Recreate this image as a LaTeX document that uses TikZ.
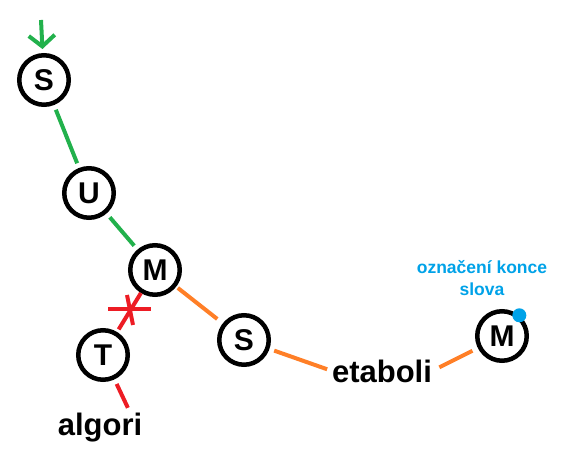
\documentclass[tikz,border=0pt]{standalone}
\usepackage{fontspec}
\setmainfont{Liberation Sans}
\usepackage{xcolor}
\usepackage{tikz}
\usetikzlibrary{arrows.meta}
\definecolor{paintgreen}{RGB}{34,177,76}
\definecolor{paintorange}{RGB}{255,127,39}
\definecolor{paintred}{RGB}{237,28,36}
\definecolor{paintblue}{RGB}{0,162,232}
\tikzset{
  letter/.style={
    circle,draw,line width=4.5pt,minimum size=49.5pt,inner sep=0pt,
    font=\fontsize{30}{30}\selectfont\bfseries
  },
  word/.style={
    inner sep=0pt,anchor=base,
    font=\fontsize{31}{31}\selectfont\bfseries
  },
  note/.style={
    inner sep=0pt,align=center,text=paintblue,
    font=\fontsize{17.5}{22}\selectfont\bfseries
  },
  stroke green/.style={draw=paintgreen,line width=4pt},
  stroke orange/.style={draw=paintorange,line width=4pt},
  stroke red/.style={draw=paintred,line width=4pt}
}

\begin{document}
\begin{tikzpicture}[x=1pt,y=-1pt]
                    \useasboundingbox (0,0) rectangle (565,462);
                    \begin{scope}[every node/.style={letter}]
                        \node (S1) at (44,80) {S};
                        \node (U) at (89,193) {U};
                        \node (M1) at (155,270) {M};

                        \node (T) at (103,355) {T};
                        \node (S2) at (244,340) {S};

                        \node (M2) at (502,336) {M};
                    \end{scope}
                    \node[word] (algori) at (100,435) {algori};
                    \node[word] (etaboli) at (382,382) {etaboli};
                    \node[note] (konec) at (482,278) {označení konce\\slova};
                    \fill[paintblue] (M2.50) circle (7pt);
                    \coordinate (start) at (41,20);
                    \coordinate (cut) at (129,309);
                    % vstup do stromu
                    \draw [stroke green,-{Straight Barb[length=11pt,width=26pt]},shorten >=4pt] (start) -- (S1);
                    \begin{scope}[every edge/.style={draw,shorten <=5pt,shorten >=5pt}]
                        \path [stroke green] (S1) edge (U);
                        \path [stroke green] (U) edge (M1);
                        \path [stroke orange] (M1) edge[shorten <=2pt,shorten >=7pt] (S2);
                        \path [stroke orange] (S2) edge (etaboli.west);
                        \path [stroke orange] (etaboli.east) edge[shorten <=8pt,shorten >=6pt] (M2);
                        \path [stroke red] (T) edge[shorten <=3pt,shorten >=0pt] (M1);
                        \path [stroke red] (T) edge[shorten >=5pt] ([xshift=30pt]algori.north);
                    \end{scope}
                    % prekrtnuta vetev
                    \draw [stroke red] ([xshift=-21pt]cut) -- ([xshift=22pt]cut);
                    \draw [stroke red] ([shift={(-2,-14)}]cut) -- ([shift={(4,16)}]cut);
                \end{tikzpicture}
\end{document}
